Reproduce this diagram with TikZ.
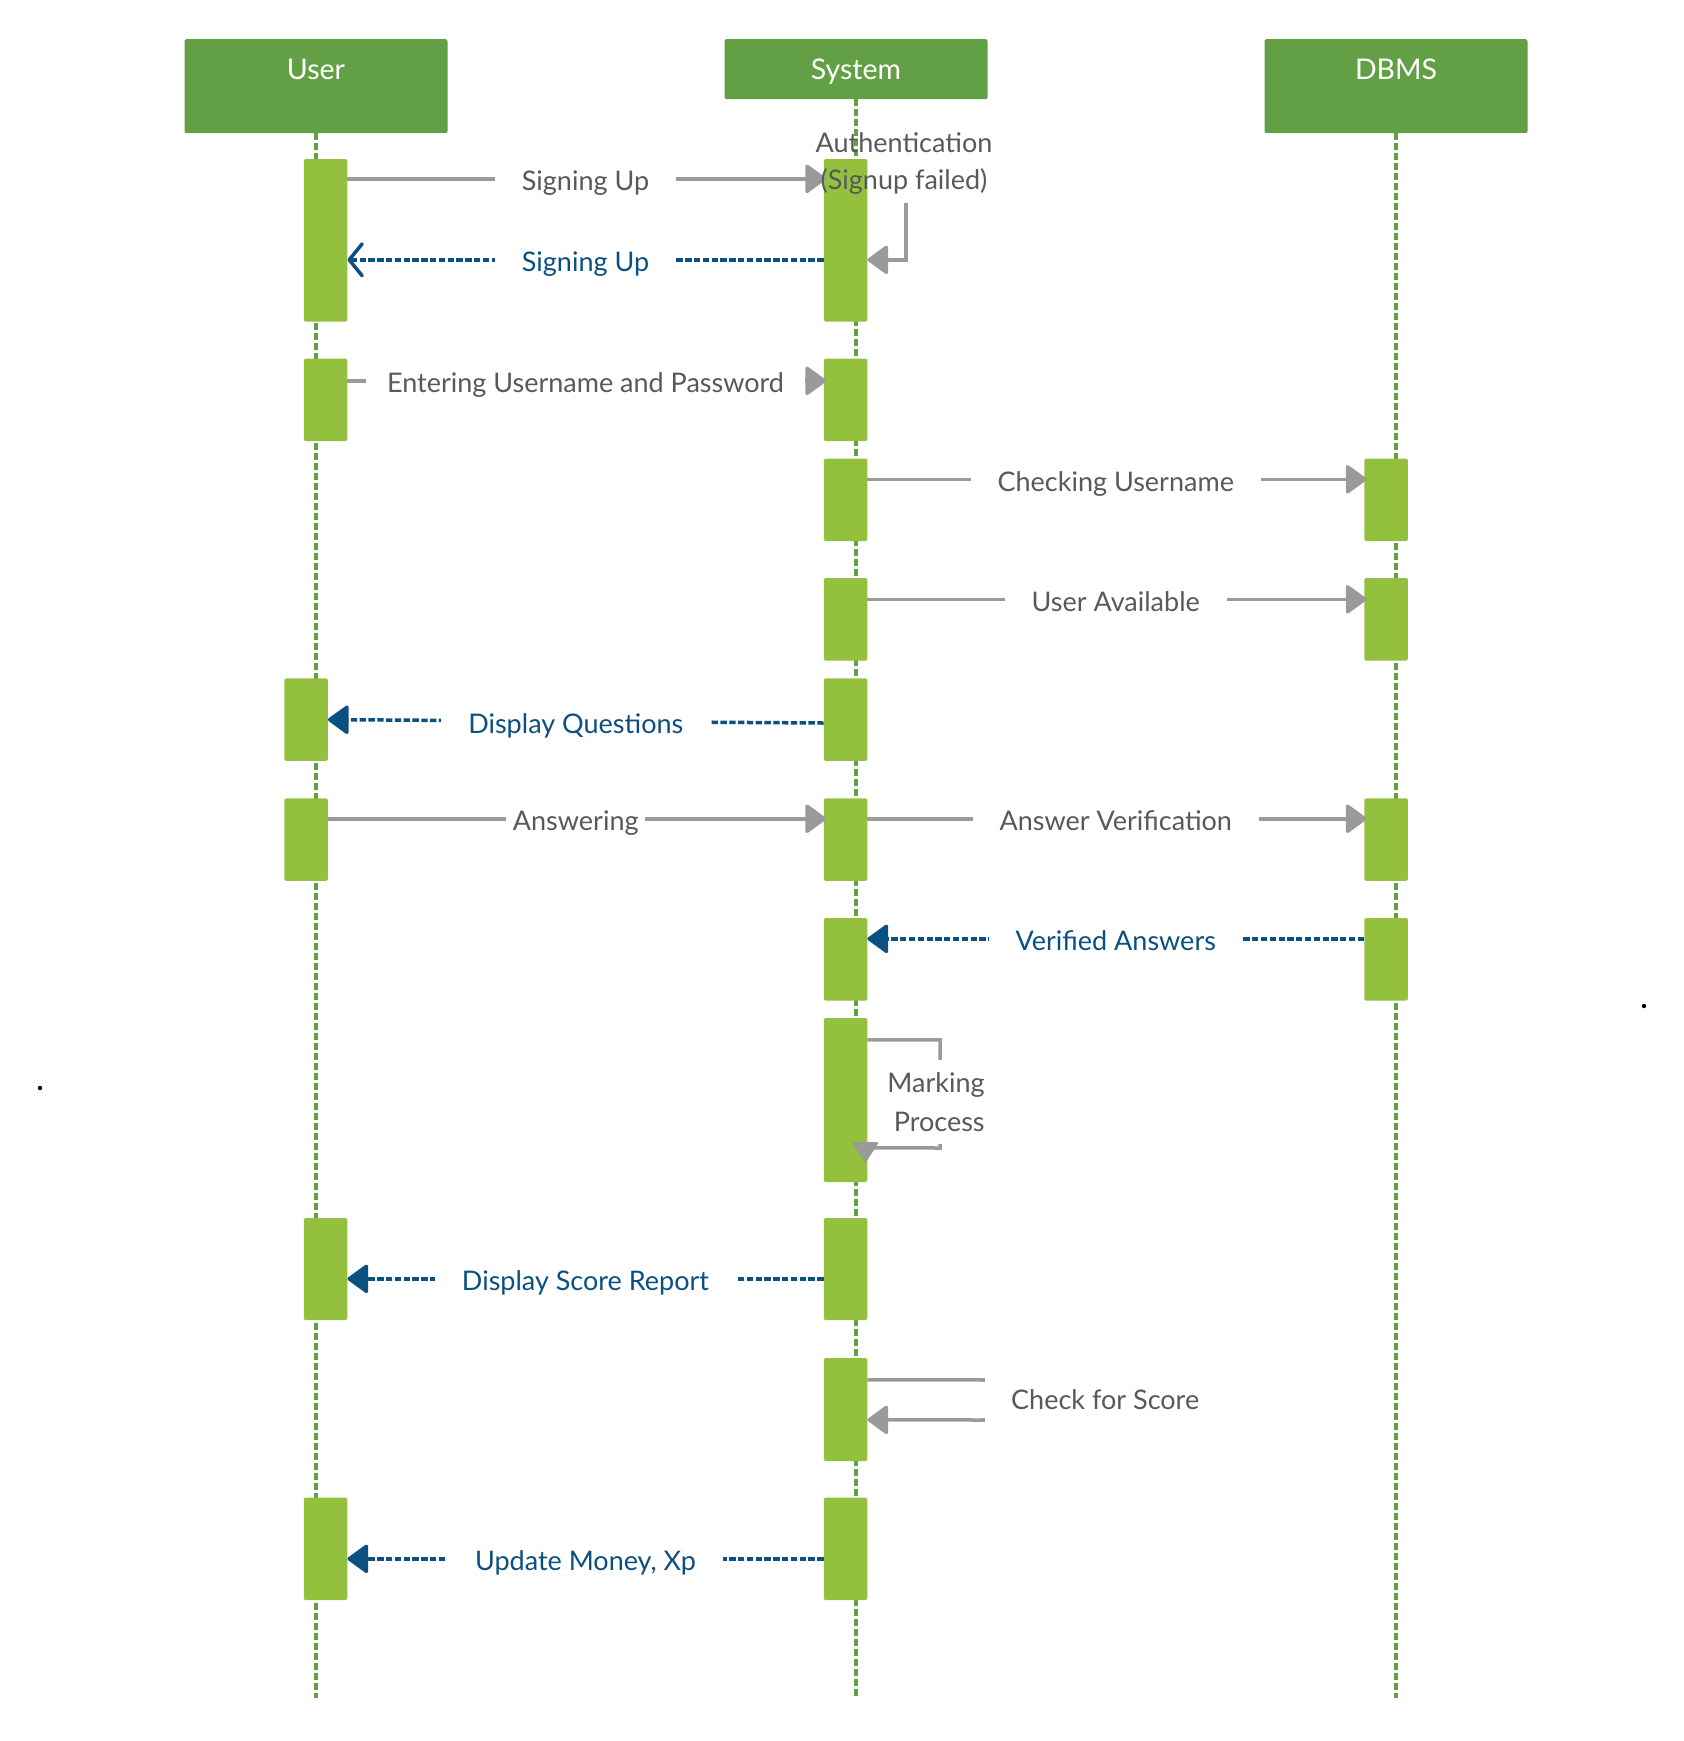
\documentclass[tikz,border=0pt]{standalone}
\usepackage{fontspec}
\setmainfont{Lato}
\usetikzlibrary{arrows.meta}
\definecolor{hdrc}{HTML}{63A045}
\definecolor{barg}{HTML}{93C13E}
\definecolor{lgray}{HTML}{9A9A9A}
\definecolor{tgray}{HTML}{595959}
\definecolor{dblue}{HTML}{0B5080}
\begin{document}
\begin{tikzpicture}[x=1pt,y=-1pt,
  hdr/.style={fill=hdrc, rounded corners=2pt, anchor=north, minimum width=263pt,
    inner xsep=0pt, inner ysep=0pt, text height=40pt, text=white,
    font=\fontsize{28.5}{34}\selectfont},
  lifeline/.style={draw=hdrc, line width=3.3pt, dash pattern=on 7pt off 3pt},
  actbar/.style={fill=barg, rounded corners=1.5pt, minimum width=43.5pt, inner sep=0pt},
  tipfill/.style={-{Triangle[length=22pt,width=31pt,round]}},
  msg/.style={draw=lgray, line width=3.5pt, tipfill, shorten >=-2.5pt},
  msgline/.style={draw=lgray, line width=3.5pt},
  ret/.style={draw=dblue, line width=3.5pt, dash pattern=on 6.3pt off 2.5pt,
    tipfill},
  retopen/.style={draw=dblue, line width=3.5pt, dash pattern=on 6.3pt off 2.5pt,
    -{Straight Barb[length=13pt,width=32pt,round]}},
  lbl/.style={midway, fill=white, text=tgray, font=\fontsize{27}{32}\selectfont,
    inner xsep=27pt, inner ysep=2pt, anchor=base, yshift=-12pt},
  bluelbl/.style={lbl, text=dblue},
  freetext/.style={text=tgray, font=\fontsize{27}{37}\selectfont, inner sep=0pt}
]
\useasboundingbox (0,0) rectangle (1684,1741);
\fill[white] (0,0) rectangle (1684,1741);

% headers
\node[hdr, text depth=54pt] (user) at (316,39) {User};
\node[hdr, text depth=20pt] (sys) at (856,39) {System};
\node[hdr, text depth=54pt] (dbms) at (1396,39) {DBMS};

% lifelines
\coordinate (userend) at (316,1698);
\coordinate (sysend) at (856,1698);
\coordinate (dbmsend) at (1396,1698);
\draw[lifeline] (user.south) -- (userend);
\draw[lifeline] (sys.south) -- (sysend);
\draw[lifeline] (dbms.south) -- (dbmsend);

% activation bars
\node[actbar, minimum height=162.5pt] (u1) at (325.5,240.25) {};
\node[actbar, minimum height=162.5pt] (s1) at (845.5,240.25) {};
\node[actbar, minimum height=82.5pt] (u2) at (325.5,399.75) {};
\node[actbar, minimum height=82.5pt] (s2) at (845.5,399.75) {};
\node[actbar, minimum height=82.5pt] (s3) at (845.5,499.75) {};
\node[actbar, minimum height=82.5pt] (d1) at (1386,499.75) {};
\node[actbar, minimum height=82.5pt] (s4) at (845.5,619.25) {};
\node[actbar, minimum height=82.5pt] (d2) at (1386,619.25) {};
\node[actbar, minimum height=82.7pt] (u3) at (306,719.6) {};
\node[actbar, minimum height=82.7pt] (s5) at (845.5,719.6) {};
\node[actbar, minimum height=82.7pt] (u4) at (306,839.6) {};
\node[actbar, minimum height=82.7pt] (s6) at (845.5,839.6) {};
\node[actbar, minimum height=82.7pt] (d3) at (1386,839.6) {};
\node[actbar, minimum height=82.5pt] (s7) at (845.5,959.25) {};
\node[actbar, minimum height=82.5pt] (d4) at (1386,959.25) {};
\node[actbar, minimum height=164pt] (s8) at (845.5,1100) {};
\node[actbar, minimum height=102pt] (u5) at (325.5,1269) {};
\node[actbar, minimum height=102pt] (s9) at (845.5,1269) {};
\node[actbar, minimum height=103pt] (s10) at (845.5,1409.5) {};
\node[actbar, minimum height=102.5pt] (u6) at (325.5,1548.75) {};
\node[actbar, minimum height=102.5pt] (s11) at (845.5,1548.75) {};

% messages
\draw[msg] ([yshift=-20pt]u1.north east) -- ([yshift=-20pt]s1.north west)
  node[lbl]{Signing Up};
\draw[retopen] ([yshift=-101pt]s1.north west) -- ([yshift=-101pt]u1.north east)
  node[bluelbl]{Signing Up};
\coordinate (authtop) at (906,203);
\draw[msg, shorten >=0pt] (authtop) |- ([yshift=-101pt]s1.north east);
\node[freetext, align=center] (auth) at (904,164) {Authentication\\(Signup failed)};

\draw[msg] ([yshift=-22.5pt]u2.north east) -- ([yshift=-22.5pt]s2.north west)
  node[lbl, inner xsep=21pt]{Entering Username and Password};
\draw[msg] ([yshift=-21pt]s3.north east) -- ([yshift=-21pt]d1.north west)
  node[lbl]{Checking Username};
\draw[msg] ([yshift=-21.5pt]s4.north east) -- ([yshift=-21.5pt]d2.north west)
  node[lbl]{User Available};
\draw[ret] ([yshift=-3.4pt]s5.west) -- (u3.east)
  node[bluelbl]{Display Questions};
\draw[msg] ([yshift=-20.7pt]u4.north east) -- ([yshift=-20.7pt]s6.north west)
  node[lbl, inner xsep=6.5pt]{Answering};
\draw[msg] ([yshift=-20.7pt]s6.north east) -- ([yshift=-20.7pt]d3.north west)
  node[lbl]{Answer Verification};
\draw[ret] ([yshift=-21pt]d4.north west) -- ([yshift=-21pt]s7.north east)
  node[bluelbl]{Verified Answers};

% marking process self message
\coordinate (mkcorner) at (940,1148);
\draw[msgline] ([yshift=-22pt]s8.north east) -| (mkcorner) -- ([yshift=-130pt]s8.north east);
\fill[lgray, rounded corners=1.5pt] (852,1142) -- (879,1142) -- (865.5,1163) -- cycle;
\node[freetext, fill=white, align=right, font=\fontsize{27}{39}\selectfont,
  minimum height=84pt] (mark) at (936,1102) {Marking\\Process};

\draw[ret] ([yshift=-61pt]s9.north west) -- ([yshift=-61pt]u5.north east)
  node[bluelbl]{Display Score Report};

% check for score self message
\coordinate (cscorner) at (983,1420);
\draw[msg, shorten >=0pt] ([yshift=-22pt]s10.north east) -| (cscorner) -- ([yshift=-62pt]s10.north east);
\node[freetext, fill=white, anchor=west, inner xsep=32pt, inner ysep=0pt,
  minimum height=36.5pt] (cscore) at (979,1400) {Check for Score};

\draw[ret] ([yshift=-61.5pt]s11.north west) -- ([yshift=-61.5pt]u6.north east)
  node[bluelbl]{Update Money, Xp};

% stray dots
\fill[black] (40,1088) circle (2.2pt);
\fill[black] (1644,1006) circle (2.2pt);
\end{tikzpicture}
\end{document}
